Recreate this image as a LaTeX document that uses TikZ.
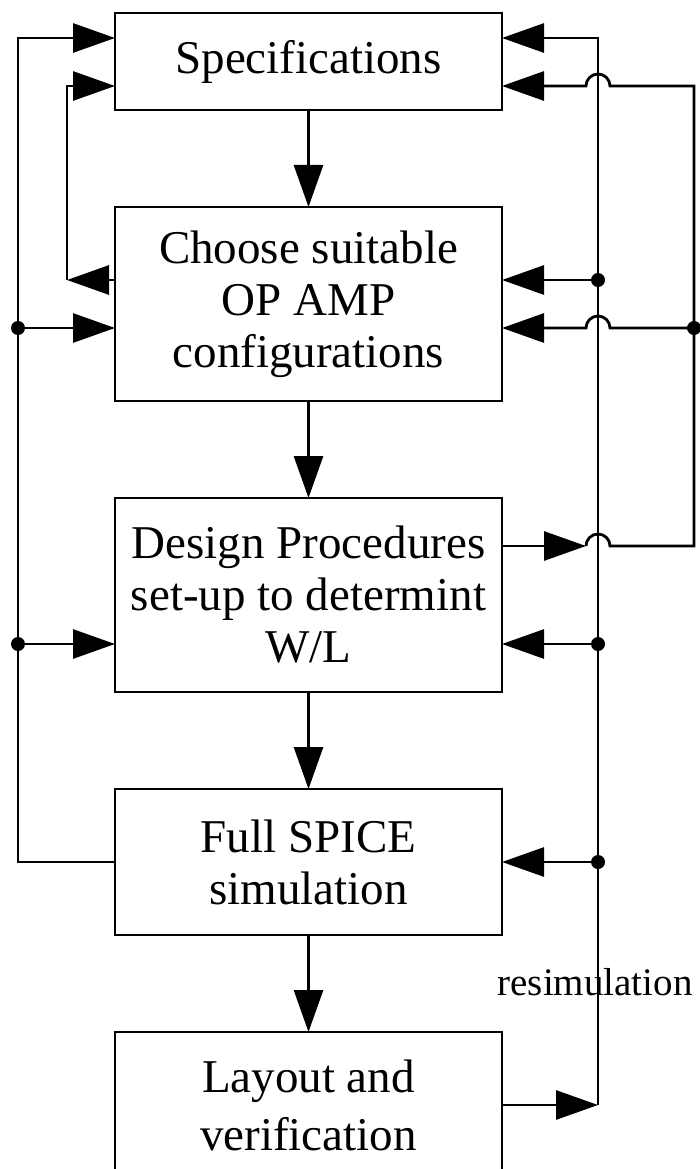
\documentclass[tikz,border=0pt]{standalone}
\usepackage{fontspec}
\setmainfont{Liberation Serif}
\usetikzlibrary{arrows.meta,calc}

\begin{document}
\begin{tikzpicture}[x=1pt, y=-1pt, line width=2.8pt,
  stage/.style={draw, minimum width=387pt, inner sep=4pt, outer sep=0pt,
                align=center, font=\fontsize{47pt}{52pt}\selectfont},
  flow/.style={-{Triangle[length=42pt, width=29pt]}},
  note/.style={font=\fontsize{39pt}{44pt}\selectfont, anchor=base},
]
\useasboundingbox (0,0) rectangle (699,1169);

% stages
\node[stage, minimum height=97pt]  (spec)   at (308.5,61.5) {Specifications};
\node[stage, minimum height=194pt] (choose) at (308.5,304)  {Choose suitable\\OP AMP\\configurations};
\node[stage, minimum height=194pt] (design) at (308.5,595)  {Design Procedures\\set-up to determint\\W/L};
\node[stage, minimum height=146pt] (spice)  at (308.5,862)  {Full SPICE\\simulation};
\node[stage, minimum height=146pt] (layout) at (308.5,1105) {Layout and\\[6pt]verification};
\foreach \a/\b in {spec/choose, choose/design, design/spice, spice/layout}
  \draw[flow] (\a.south) -- (\b.north);

% left rails
\coordinate (lo top) at (18,38);
\coordinate (li top) at (67,86);
\coordinate (li bot) at (67,280);
\draw[flow] (spice.west) -| (lo top) -- (lo top -| spec.west);
\foreach \j/\n/\y in {a/choose/328, b/design/644} {
  \coordinate (lo \j) at (18,\y);
  \draw[flow] (lo \j) -- (lo \j -| \n.west);
  \fill (lo \j) circle (7pt);
}
\draw[flow] (choose.west |- li bot) -- (li bot);
\draw[flow] (li bot) -- (li top) -- (li top -| spec.west);

% right rail (resimulation)
\coordinate (ri top) at (598,38);
\coordinate (ri bot) at (598,1105);
\draw[flow] (layout.east) -- (ri bot);
\draw[flow] (ri bot) -- (ri top) -- (ri top -| spec.east);
\foreach \j/\n/\y in {a/choose/280, b/design/644, c/spice/862} {
  \coordinate (ri \j) at (598,\y);
  \draw[flow] (ri \j) -- (ri \j -| \n.east);
  \fill (ri \j) circle (7pt);
}
\node[note] (resim) at (595,995) {resimulation};

% outer loop, hops over the right rail
\coordinate (ro top) at (694,86);
\coordinate (ro mid) at (694,328);
\coordinate (ro bot) at (694,546);
\draw[flow] (design.east |- ro bot) -- ($(ri top |- ro bot)+(-12,0)$);
\draw[flow] ($(ri top |- ro bot)+(-12,0)$) arc[start angle=180, end angle=0, radius=12pt]
  -- (ro bot) -- (ro top) -- ($(ri top |- ro top)+(12,0)$)
  arc[start angle=0, end angle=180, radius=12pt] -- (ro top -| spec.east);
\draw[flow] (ro mid) -- ($(ri top |- ro mid)+(12,0)$)
  arc[start angle=0, end angle=180, radius=12pt] -- (ro mid -| choose.east);
\fill (ro mid) circle (7pt);
\end{tikzpicture}
\end{document}
